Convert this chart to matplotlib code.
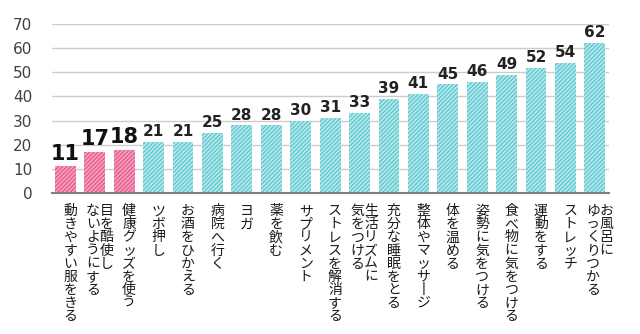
import matplotlib
matplotlib.use("Agg")
import matplotlib.pyplot as plt
from matplotlib.transforms import offset_copy

plt.rcParams['font.family'] = ['Noto Sans CJK JP', 'DejaVu Sans']
plt.rcParams['hatch.linewidth'] = 1.1

labels = [
    "動きやすい服をきる", "目を酷使し\nないようにする", "健康グッズを使う", "ツボ押し",
    "お酒をひかえる", "病院へ行く", "ヨガ", "薬を飲む", "サプリメント",
    "ストレスを解消する", "生活リズムに\n気をつける", "充分な睡眠をとる",
    "整体やマッサージ", "体を温める", "姿勢に気をつける", "食べ物に気をつける",
    "運動をする", "ストレッチ", "お風呂に\nゆっくりつかる",
]
values = [11, 17, 18, 21, 21, 25, 28, 28, 30, 31, 33, 39, 41, 45, 46, 49, 52, 54, 62]
n_pink = 3

yticks = [0, 10, 20, 30, 40, 50, 60, 70]

fig = plt.figure(figsize=(6.4, 3.34), dpi=100)
ax = fig.add_axes([0.081, 0.422, 0.871, 0.506])

x = list(range(len(values)))
for i, v in zip(x, values):
    if i < n_pink:
        face, hatch_col = "#F6A8C4", "#E95C8E"
    else:
        face, hatch_col = "#C2EBEE", "#62CAD2"
    ax.bar(i, v, width=0.71, color=face, edgecolor=hatch_col, hatch="////////",
           linewidth=0, zorder=2)
    if i < n_pink:
        ax.text(i, v + 1.2, str(v), ha="center", va="bottom", fontsize=15,
                fontweight="bold", family="DejaVu Sans", color="#111111")
    else:
        ax.text(i, v + 1.2, str(v), ha="center", va="bottom", fontsize=11,
                fontweight="bold", family="DejaVu Sans", color="#222222")

ax.set_xlim(-0.46, 18.49)
ax.set_ylim(0, 70)
ax.set_yticks(yticks)
ax.set_yticklabels([str(t) for t in yticks], family="DejaVu Sans", fontsize=11, color="#404040")
ax.tick_params(axis="y", length=0, pad=14)
ax.set_xticks([])
ax.grid(axis="y", color="#CCCCCC", linewidth=1.0, zorder=0)
for s in ["top", "right", "left"]:
    ax.spines[s].set_visible(False)
ax.spines["bottom"].set_color("#808080")
ax.spines["bottom"].set_linewidth(1.5)
ax.spines["bottom"].set_zorder(3)

# vertical japanese tick labels, first column on the right
col_gap = 9.5
for i, lab in zip(x, labels):
    cols = lab.split("\n")
    n = len(cols)
    for j, col in enumerate(cols):
        dx = 3.5 + ((n - 1) / 2 - j) * col_gap
        txt = "\n".join("丨" if c == "ー" else c for c in col)
        tr = offset_copy(ax.get_xaxis_transform(), fig=fig, x=dx, y=-8, units="points")
        ax.text(i, 0, txt, transform=tr, ha="center", va="top", fontsize=10,
                linespacing=0.92, color="#1A1A1A")

fig.savefig("out.png", dpi=100)
